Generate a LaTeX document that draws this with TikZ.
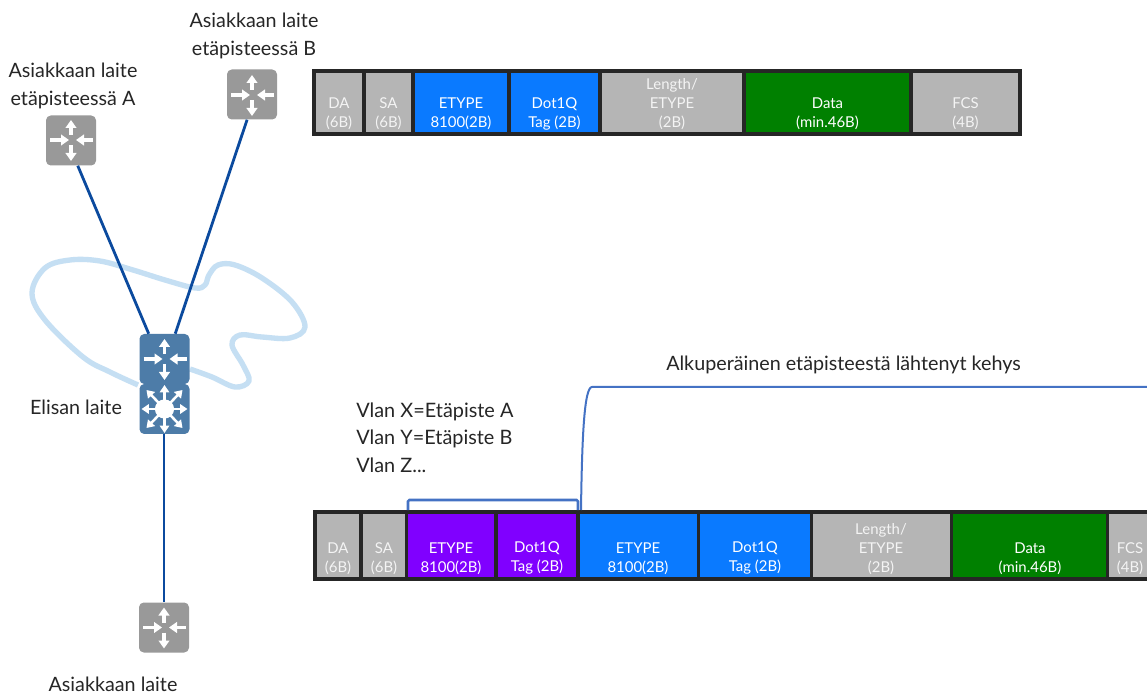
\documentclass[tikz,border=0pt]{standalone}
\usepackage{fontspec}
\setmainfont{Lato}
\usetikzlibrary{arrows.meta}
\definecolor{txt}{HTML}{262626}
\definecolor{swgray}{HTML}{999999}
\definecolor{swblue}{HTML}{4D7CA8}
\definecolor{lnk}{HTML}{0B4A9E}
\definecolor{cloudc}{HTML}{C5DFF3}
\definecolor{brk}{HTML}{4472C4}
\definecolor{cgray}{HTML}{B5B5B5}
\definecolor{cblue}{HTML}{0A7AFF}
\definecolor{cpurp}{HTML}{8000FF}
\definecolor{cgreen}{HTML}{008000}
\definecolor{cbord}{HTML}{262626}
\tikzset{
  x=0.75pt,y=-0.75pt,
  swbox/.style={fill=#1,rounded corners=3.6pt,minimum width=37.5pt,minimum height=37.5pt,inner sep=0pt},
  lab/.style={font=\fontsize{14.8}{21}\selectfont,text=txt,inner sep=0pt,align=center},
  lableft/.style={font=\fontsize{14.9}{20.3}\selectfont,text=txt,inner sep=0pt,align=left},
  conn/.style={draw=lnk,line width=2.1pt},
  wa/.style={draw=white,line width=2.3pt,-{Triangle[width=8pt,length=6pt]}},
  wb/.style={draw=white,line width=1.9pt,-{Triangle[width=7pt,length=5.5pt]}},
  fcell/.style={draw=cbord,line width=2.3pt,fill=#1,inner sep=0pt,minimum height=0pt},
  celltxt/.style={font=\fontsize{11.2}{14.2}\selectfont,inner sep=0pt,align=center,anchor=south},
  wtxt/.style={celltxt,text=white},
  gtxt/.style={celltxt,text=white!85!cgray},
  bracket/.style={draw=brk,line width=1.9pt}
}
\newcommand{\fourarrows}[1]{%
  \begin{scope}[shift={(#1)}]
    \draw[wa] (0,-5) -- (0,-20);
    \draw[wa] (0,5) -- (0,21);
    \draw[wa] (-21,0) -- (-2,0);
    \draw[wa] (22,0) -- (5,0);
  \end{scope}}
\newcommand{\eightarrows}[1]{%
  \begin{scope}[shift={(#1)}]
    \foreach \a/\b in {0/-24,0/24,-23/0,23/0,-18/-19,18/-19,-18/19,18/19}{
      \draw[wb] (0,0) -- (\a,\b);
    }
    \fill[white] (0,0) circle[radius=7.2pt];
  \end{scope}}
\newcommand{\cellbox}[6]{%
  \path[fcell=#6] (#2,#4) rectangle (#3,#5) coordinate[pos=.5] (#1);}
\begin{document}
\begin{tikzpicture}
\useasboundingbox (0,0) rectangle (1147,695);
\clip (0,0) rectangle (1147,695);
\fill[white] (0,0) rectangle (1147,695);

% cloud
\draw[cloudc,line width=4pt,line join=round]
  plot[smooth,tension=0.6] coordinates {(190,369) (212,377) (235,387) (249,381) (243,365) (232,345) (240,335) (262,337) (290,338) (305,327) (292,302) (262,278) (235,265) (218,265) (209,275) (205,285) (195,288) (165,280) (133,270) (100,261) (70,260) (45,268) (32,293) (45,320) (83,357) (110,372) (138,385)};

% switches
\node[swbox=swgray] (swa) at (71,140.5) {};
\node[swbox=swgray] (swb) at (252,94.5) {};
\node[swbox=swgray] (swc) at (164,627.5) {};
\node[swbox=swblue] (elisalow) at (164.5,409) {};
\node[swbox=swblue] (elisaup) at (164.5,359) {};

% connectors
\draw[conn] (swa.-75) -- (elisaup.122);
\draw[conn] (swb.-101) -- (elisaup.67);
\draw[conn] (elisalow.south -| swc) -- (swc);

\fourarrows{71,140}
\fourarrows{252,95}
\fourarrows{164,627.5}
\fourarrows{164.5,359}
\eightarrows{164.5,409}

% labels
\node[lab] (lb) at (254,35.5) {Asiakkaan laite\\etäpisteessä B};
\node[lab] (la) at (73,86) {Asiakkaan laite\\etäpisteessä A};
\node[lab] (le) at (76,407) {Elisan laite};
\node[lab] (lc) at (113,684.5) {Asiakkaan laite};
\node[lab] (lo) at (843.5,364.5) {Alkuperäinen etäpisteestä lähtenyt kehys};
\node[lableft,anchor=north west] (lv) at (356,403) {Vlan X=Etäpiste A\\Vlan Y=Etäpiste B\\Vlan Z...};

% top frame
\cellbox{t1}{314}{364}{71}{134}{cgray}
\cellbox{t2}{364}{413}{71}{134}{cgray}
\cellbox{t3}{413}{509}{71}{134}{cblue}
\cellbox{t4}{509}{600}{71}{134}{cblue}
\cellbox{t5}{600}{744}{71}{134}{cgray}
\cellbox{t6}{744}{911}{71}{134}{cgreen}
\cellbox{t7}{911}{1020}{71}{134}{cgray}
\node[gtxt] (tt1) at (339,130) {DA\\(6B)};
\node[gtxt] (tt2) at (388.5,130) {SA\\(6B)};
\node[wtxt] (tt3) at (461,130) {ETYPE\\8100(2B)};
\node[wtxt] (tt4) at (554.5,130) {Dot1Q\\Tag (2B)};
\node[gtxt] (tt5) at (672,130) {Length/\\ETYPE\\(2B)};
\node[wtxt] (tt6) at (827.5,130) {Data\\(min.46B)};
\node[gtxt] (tt7) at (965.5,130) {FCS\\(4B)};

% bottom frame
\cellbox{b1}{315}{361}{512}{579}{cgray}
\cellbox{b2}{361}{406.5}{512}{579}{cgray}
\cellbox{b3}{406.5}{496}{512}{579}{cpurp}
\cellbox{b4}{496}{578}{512}{579}{cpurp}
\cellbox{b5}{578}{698.5}{512}{579}{cblue}
\cellbox{b6}{698.5}{811.5}{512}{579}{cblue}
\cellbox{b7}{811.5}{951.5}{512}{579}{cgray}
\cellbox{b8}{951.5}{1107.5}{512}{579}{cgreen}
\cellbox{b9}{1107.5}{1160}{512}{579}{cgray}
\node[gtxt] (bt1) at (338,574.5) {DA\\(6B)};
\node[gtxt] (bt2) at (384,574.5) {SA\\(6B)};
\node[wtxt] (bt3) at (451,574.5) {ETYPE\\8100(2B)};
\node[wtxt] (bt4) at (537,574.5) {Dot1Q\\Tag (2B)};
\node[wtxt] (bt5) at (638,574.5) {ETYPE\\8100(2B)};
\node[wtxt] (bt6) at (755,574.5) {Dot1Q\\Tag (2B)};
\node[gtxt] (bt7) at (881,574.5) {Length/\\ETYPE\\(2B)};
\node[wtxt] (bt8) at (1030,574.5) {Data\\(min.46B)};
\node[gtxt] (bt9) at (1130,574.5) {FCS\\(4B)};

% brackets
\coordinate (br1) at (408,510);
\coordinate (br2) at (578,510);
\draw[bracket,rounded corners=1pt] (br1) -- (408,500) -- (578,500) -- (br2);
\coordinate (bs) at (581,510);
\coordinate (be) at (1147,387);
\draw[draw=brk,line width=1.5pt] (bs) .. controls (582,440) and (584,387) .. (592,387) -- (be);
\end{tikzpicture}
\end{document}
